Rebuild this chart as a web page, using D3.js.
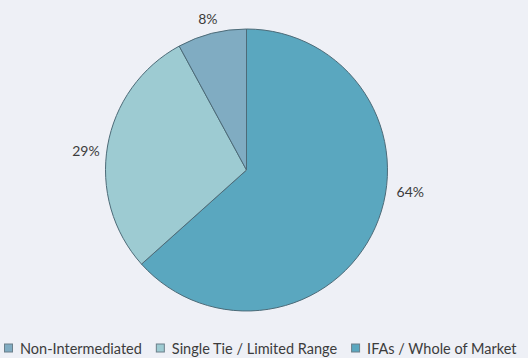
<!DOCTYPE html>
<html>
<head>
<meta charset="utf-8">
<script src="https://cdn.jsdelivr.net/npm/d3@7"></script>
<style>
  html, body { margin: 0; padding: 0; background: #eef0f6; overflow: hidden; }
  svg { display: block; }
</style>
</head>
<body>
<svg id="chart" width="528" height="358"></svg>
<script>
// Distribution channel shares (%), drawn clockwise from 12 o'clock
const categories = ["IFAs / Whole of Market", "Single Tie / Limited Range", "Non-Intermediated"];
const shares = [64, 29, 8];
const colors = ["#5aa7bf", "#9dcbd2", "#80acc2"];
const legendOrder = ["Non-Intermediated", "Single Tie / Limited Range", "IFAs / Whole of Market"];

const svg = d3.select("#chart");
const cx = 246.5, cy = 170, r = 141;

const color = d3.scaleOrdinal().domain(categories).range(colors);

const pie = d3.pie().sort(null).value(d => d.value);
const arcs = pie(categories.map((c, i) => ({ name: c, value: shares[i] })));

const arc = d3.arc().innerRadius(0).outerRadius(r);

const g = svg.append("g").attr("transform", `translate(${cx},${cy})`);

g.selectAll("path.slice")
  .data(arcs)
  .join("path")
  .attr("class", "slice")
  .attr("d", arc)
  .attr("fill", d => color(d.data.name))
  .attr("stroke", "#4d6b78")
  .attr("stroke-width", 1)
  .attr("stroke-linejoin", "round");

// Percentage labels outside each slice, nudged off the centroid ray
const labelArc = d3.arc().innerRadius(r + 22).outerRadius(r + 22);
const labelOffsets = {
  "IFAs / Whole of Market": [15, -45],
  "Single Tie / Limited Range": [0, 8],
  "Non-Intermediated": [1.5, 6]
};
g.selectAll("text.pct")
  .data(arcs)
  .join("text")
  .attr("class", "pct")
  .attr("transform", d => {
    const [x, y] = labelArc.centroid(d);
    const o = labelOffsets[d.data.name];
    return `translate(${x + o[0]},${y + o[1]})`;
  })
  .attr("text-anchor", "middle")
  .attr("dominant-baseline", "central")
  .attr("font-family", "Lato, 'Open Sans', sans-serif")
  .attr("font-size", 14)
  .attr("fill", "#3c3c3c")
  .text(d => d.data.value + "%");

// Legend along the bottom, items laid out left to right by measured width
const legend = svg.append("g").attr("transform", "translate(0,348)");
const items = legend.selectAll("g.item")
  .data(legendOrder)
  .join("g")
  .attr("class", "item");

items.append("rect")
  .attr("x", 0.5).attr("y", -4)
  .attr("width", 8).attr("height", 8)
  .attr("fill", d => color(d))
  .attr("stroke", "#6b7f8a")
  .attr("stroke-width", 1);

items.append("text")
  .attr("x", 16)
  .attr("y", 0)
  .attr("dominant-baseline", "central")
  .attr("font-family", "Lato, 'Open Sans', sans-serif")
  .attr("font-size", 14.5)
  .attr("fill", "#3c3c3c")
  .text(d => d);

let xPos = 4;
const gap = 14;
items.each(function() {
  const node = d3.select(this);
  node.attr("transform", `translate(${xPos},0)`);
  const w = node.select("text").node().getComputedTextLength();
  xPos += 16 + w + gap;
});
</script>
</body>
</html>
